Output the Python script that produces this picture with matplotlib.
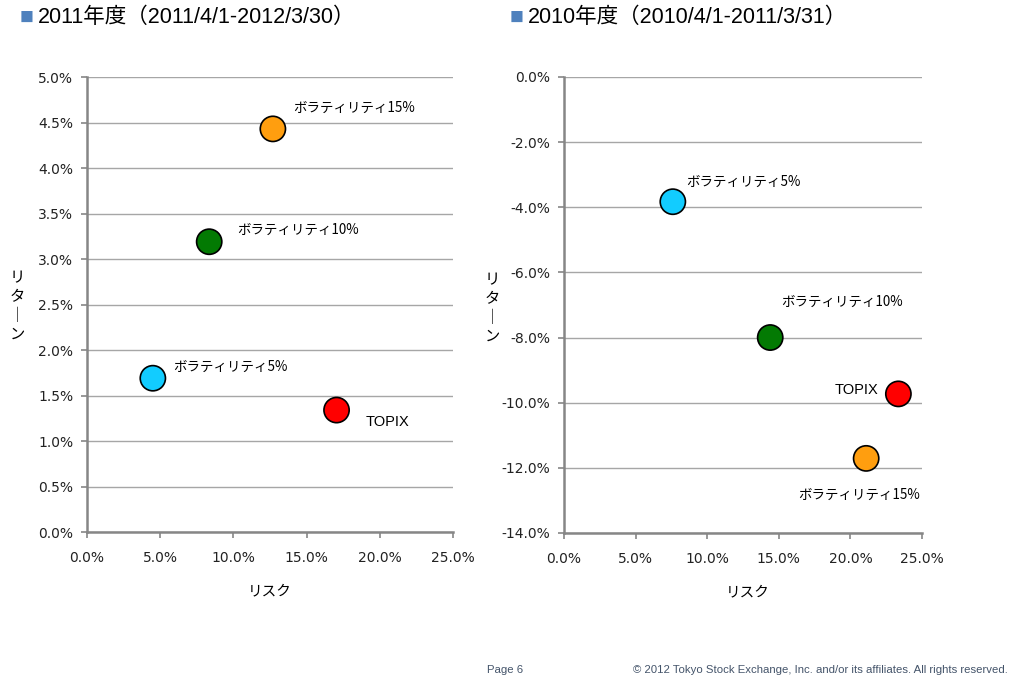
import numpy as np
import matplotlib.pyplot as plt
from matplotlib.ticker import FuncFormatter

plt.rcParams["font.family"] = ["Noto Sans CJK JP", "DejaVu Sans"]

# ===== データ（単位：%） =====
names_2011 = ["ボラティリティ15%", "ボラティリティ10%", "ボラティリティ5%", "TOPIX"]
risk_2011 = [12.7, 8.35, 4.5, 17.05]
ret_2011 = [4.43, 3.19, 1.69, 1.34]

names_2010 = ["ボラティリティ5%", "ボラティリティ10%", "TOPIX", "ボラティリティ15%"]
risk_2010 = [7.6, 14.4, 23.35, 21.1]
ret_2010 = [-3.83, -8.0, -9.73, -11.71]

colors_2011 = ["#FF9E0F", "#037A03", "#12CCFF", "#FF0000"]
colors_2010 = ["#12CCFF", "#037A03", "#FF0000", "#FF9E0F"]

x_ticks = [0, 5, 10, 15, 20, 25]
y_ticks_2011 = [0, 0.5, 1.0, 1.5, 2.0, 2.5, 3.0, 3.5, 4.0, 4.5, 5.0]
y_ticks_2010 = [0, -2, -4, -6, -8, -10, -12, -14]

# ラベルの位置（ピクセルオフセット, 配置）
offs_2011 = [((20, 21), "left"), ((28, 12), "left"), ((20, 11), "left"), ((29, -12), "left")]
offs_2010 = [((13, 20), "left"), ((11, 36), "left"), ((-20, 4), "right"), ((-68, -36), "left")]

fig = plt.figure(figsize=(10.16, 6.84), dpi=100)
ax1 = fig.add_axes([0.0856, 0.2222, 0.3602, 0.6652])
ax2 = fig.add_axes([0.5551, 0.2208, 0.3524, 0.6667])

pct = FuncFormatter(lambda v, p: f"{v:.1f}%")


def draw(ax, names, xs, ys, cols, offs, yticks):
    ax.scatter(xs, ys, s=330, c=cols, edgecolors="black", linewidths=1.2, zorder=3)
    for n, x, y, (o, ha) in zip(names, xs, ys, offs):
        if n == "TOPIX":
            ax.annotate(n, (x, y), xytext=o, textcoords="offset pixels", ha=ha,
                        va="center", fontsize=10.5, family=["Liberation Sans"])
        else:
            ax.annotate(n, (x, y), xytext=o, textcoords="offset pixels",
                        ha=ha, va="center", fontsize=9.7, color="black")
    ax.set_xlim(0, 25)
    ax.set_ylim(min(yticks), max(yticks))
    ax.set_xticks(x_ticks)
    ax.set_yticks(yticks)
    ax.xaxis.set_major_formatter(pct)
    ax.yaxis.set_major_formatter(pct)
    ax.grid(axis="y", color="#A6A6A6", lw=1)
    ax.set_axisbelow(True)
    for s in ["top", "right"]:
        ax.spines[s].set_visible(False)
    for s in ["left", "bottom"]:
        ax.spines[s].set_color("#868686")
        ax.spines[s].set_linewidth(1.8)
    ax.tick_params(colors="#868686", length=4, width=1.2, labelcolor="#222222", labelsize=10)
    ax.tick_params(axis="x", pad=10)
    ax.tick_params(axis="y", pad=6)
    for lab in ax.get_xticklabels() + ax.get_yticklabels():
        lab.set_family(["DejaVu Sans"])


draw(ax1, names_2011, risk_2011, ret_2011, colors_2011, offs_2011, y_ticks_2011)
draw(ax2, names_2010, risk_2010, ret_2010, colors_2010, offs_2010, y_ticks_2010)

# 軸ラベル
fig.text(270 / 1016, 1 - 591 / 684, "リスク", ha="center", va="center", fontsize=10.5)
fig.text(748 / 1016, 1 - 592 / 684, "リスク", ha="center", va="center", fontsize=10.5)
fig.text(17 / 1016, 1 - 306 / 684, "リ\nタ\n｜\nン", ha="center", va="center",
         fontsize=11, linespacing=1.15)
fig.text(492 / 1016, 1 - 308 / 684, "リ\nタ\n｜\nン", ha="center", va="center",
         fontsize=11, linespacing=1.15)

# タイトル
title_font = ["Liberation Sans", "Noto Sans CJK JP"]
fig.text(20 / 1016, 1 - 18 / 684, "■", color="#4F81BD", fontsize=10, va="center")
fig.text(38 / 1016, 1 - 17 / 684, "2011年度（2011/4/1-2012/3/30）", fontsize=15.5,
         va="center", family=title_font)
fig.text(510 / 1016, 1 - 18 / 684, "■", color="#4F81BD", fontsize=10, va="center")
fig.text(528 / 1016, 1 - 17 / 684, "2010年度（2010/4/1-2011/3/31）", fontsize=15.5,
         va="center", family=title_font)

# フッター
fig.text(487 / 1016, 1 - 670 / 684, "Page 6", fontsize=8.2, color="#44546A",
         family=["Liberation Sans"], va="center")
fig.text(1008 / 1016, 1 - 670 / 684,
         "© 2012 Tokyo Stock Exchange, Inc. and/or its affiliates. All rights reserved.",
         fontsize=8.2, color="#44546A", family=["Liberation Sans"], ha="right", va="center")

fig.savefig("out.png", dpi=100)
